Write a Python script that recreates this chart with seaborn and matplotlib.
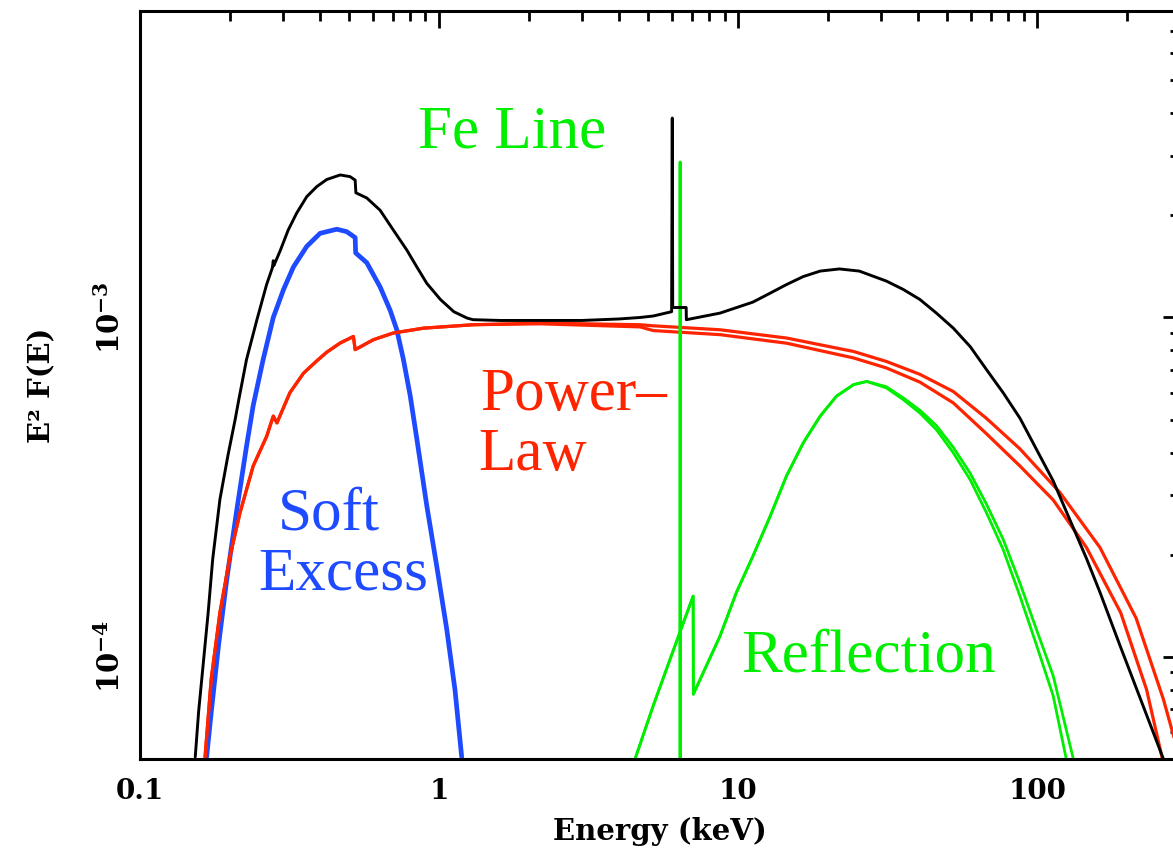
import numpy as np
import matplotlib
matplotlib.use("Agg")
import matplotlib.pyplot as plt
import seaborn as sns
from matplotlib.ticker import FixedLocator, LogLocator, FuncFormatter, NullFormatter

# ---- spectral components (energy in keV, E^2 F(E)) ----
total_E = [0.153, 0.157, 0.169, 0.175, 0.185, 0.197, 0.208, 0.214, 0.227, 0.246,
           0.265, 0.277, 0.279, 0.280, 0.294, 0.313, 0.334, 0.361, 0.390, 0.421,
           0.467, 0.504, 0.524, 0.527, 0.573, 0.635, 0.703, 0.780, 0.842, 0.910,
           1.01, 1.12, 1.24, 1.30, 1.6, 2.2, 3.0, 4.0, 4.7, 5.2,
           5.99, 6.02, 6.04, 6.55, 6.70, 6.71, 8.69, 11.2, 12.8, 14.5,
           16.5, 18.8, 21.8, 25.4, 31.3, 35.6, 40.5, 46.0, 52.4, 59.7,
           69.0, 76.9, 87.5, 113, 146, 162, 189, 244, 264]
total_F = [5.07e-5, 6.88e-5, 1.35e-4, 1.94e-4, 2.91e-4, 3.94e-4, 5.0e-4, 5.73e-4, 7.51e-4, 9.85e-4,
           1.25e-3, 1.40e-3, 1.47e-3, 1.42e-3, 1.57e-3, 1.81e-3, 2.03e-3, 2.27e-3, 2.43e-3, 2.55e-3,
           2.63e-3, 2.60e-3, 2.54e-3, 2.33e-3, 2.25e-3, 2.07e-3, 1.81e-3, 1.58e-3, 1.41e-3, 1.26e-3,
           1.13e-3, 1.04e-3, 9.96e-4, 9.85e-4, 9.8e-4, 9.8e-4, 9.8e-4, 9.9e-4, 1.0e-3, 1.01e-3,
           1.04e-3, 3.87e-3, 1.07e-3, 1.07e-3, 1.07e-3, 9.85e-4, 1.03e-3, 1.11e-3, 1.18e-3, 1.25e-3,
           1.32e-3, 1.37e-3, 1.39e-3, 1.37e-3, 1.28e-3, 1.21e-3, 1.13e-3, 1.03e-3, 9.3e-4, 8.2e-4,
           6.85e-4, 6.0e-4, 5.05e-4, 3.3e-4, 1.95e-4, 1.55e-4, 1.08e-4, 6.0e-5, 5.0e-5]

soft_E = [0.167, 0.173, 0.183, 0.195, 0.210, 0.227, 0.239, 0.249, 0.258, 0.279,
          0.302, 0.326, 0.361, 0.400, 0.455, 0.491, 0.524, 0.526, 0.573, 0.635,
          0.686, 0.722, 0.760, 0.800, 0.842, 0.910, 0.982, 1.06, 1.13, 1.19]
soft_F = [5.07e-5, 6.85e-5, 1.08e-4, 1.69e-4, 2.66e-4, 4.17e-4, 5.5e-4, 6.5e-4, 7.51e-4, 1.0e-3,
          1.21e-3, 1.41e-3, 1.62e-3, 1.77e-3, 1.82e-3, 1.79e-3, 1.72e-3, 1.55e-3, 1.45e-3, 1.23e-3,
          1.05e-3, 9.2e-4, 7.51e-4, 5.9e-4, 4.4e-4, 2.78e-4, 1.85e-4, 1.21e-4, 8.0e-5, 5.07e-5]

powerlaw_a_E = [0.165, 0.173, 0.185, 0.200, 0.216, 0.239, 0.265, 0.279, 0.287, 0.317,
                0.352, 0.390, 0.421, 0.467, 0.517, 0.524, 0.603, 0.703, 0.886, 1.30,
                2.18, 4.70, 5.2, 8.69, 14.5, 24.3, 31.3, 40.5, 52.4, 67.5,
                87.5, 119, 162, 214, 264, 300]
powerlaw_a_F = [5.07e-5, 8.6e-5, 1.35e-4, 1.98e-4, 2.66e-4, 3.65e-4, 4.46e-4, 5.12e-4, 4.89e-4, 6.0e-4,
                6.85e-4, 7.45e-4, 7.9e-4, 8.41e-4, 8.79e-4, 8.04e-4, 8.6e-4, 9.0e-4, 9.3e-4, 9.52e-4,
                9.63e-4, 9.52e-4, 9.45e-4, 9.2e-4, 8.7e-4, 7.94e-4, 7.42e-4, 6.8e-4, 6.05e-4, 5.05e-4,
                4.1e-4, 3.05e-4, 2.1e-4, 1.3e-4, 7.5e-5, 5.0e-5]

powerlaw_b_E = [0.165, 0.173, 0.185, 0.200, 0.216, 0.239, 0.265, 0.279, 0.287, 0.317,
                0.352, 0.390, 0.421, 0.467, 0.517, 0.524, 0.603, 0.703, 0.886, 1.30,
                2.18, 4.70, 5.2, 8.69, 14.5, 24.3, 31.3, 40.5, 52.4, 67.5,
                87.5, 113, 146, 190, 232, 262]
powerlaw_b_F = [5.07e-5, 8.6e-5, 1.35e-4, 1.98e-4, 2.66e-4, 3.65e-4, 4.46e-4, 5.12e-4, 4.89e-4, 6.0e-4,
                6.85e-4, 7.45e-4, 7.9e-4, 8.41e-4, 8.79e-4, 8.04e-4, 8.6e-4, 9.0e-4, 9.3e-4, 9.52e-4,
                9.58e-4, 9.38e-4, 9.15e-4, 8.9e-4, 8.4e-4, 7.6e-4, 7.1e-4, 6.45e-4, 5.6e-4, 4.55e-4,
                3.65e-4, 2.9e-4, 2.1e-4, 1.35e-4, 8.0e-5, 5.0e-5]

refl_a_E = [4.52, 5.20, 6.38, 7.07, 7.08, 8.69, 9.87, 11.2, 12.8, 14.5,
            16.5, 18.8, 21.3, 24.3, 26.9, 31.3, 35.6, 40.5, 46.0, 52.4,
            59.6, 67.6, 76.9, 87.5, 99.5, 113, 125]
refl_a_F = [5.0e-5, 7.18e-5, 1.18e-4, 1.51e-4, 7.76e-5, 1.15e-4, 1.55e-4, 1.98e-4, 2.60e-4, 3.41e-4,
            4.27e-4, 5.12e-4, 5.86e-4, 6.34e-4, 6.48e-4, 6.20e-4, 5.73e-4, 5.23e-4, 4.67e-4, 3.99e-4,
            3.33e-4, 2.66e-4, 2.07e-4, 1.51e-4, 1.08e-4, 7.68e-5, 5.0e-5]

refl_b_E = [4.52, 5.20, 6.38, 7.07, 7.08, 8.69, 9.87, 11.2, 12.8, 14.5,
            16.5, 18.8, 21.3, 24.3, 26.9, 31.3, 35.6, 40.5, 46.0, 52.4,
            59.6, 67.6, 76.9, 87.5, 99.5, 113, 125, 132]
refl_b_F = [5.0e-5, 7.18e-5, 1.18e-4, 1.51e-4, 7.76e-5, 1.15e-4, 1.55e-4, 1.98e-4, 2.60e-4, 3.41e-4,
            4.27e-4, 5.12e-4, 5.86e-4, 6.34e-4, 6.48e-4, 6.25e-4, 5.8e-4, 5.33e-4, 4.8e-4, 4.14e-4,
            3.48e-4, 2.82e-4, 2.22e-4, 1.65e-4, 1.2e-4, 8.8e-5, 6.1e-5, 5.0e-5]

feline_E = [6.39, 6.40, 6.41]
feline_F = [1.0e-5, 2.87e-3, 1.0e-5]

x_ticks = [0.1, 1, 10, 100]
x_tick_labels = ["0.1", "1", "10", "100"]
y_ticks = [1e-4, 1e-3]
y_tick_labels = [r"$\mathbf{10^{-4}}$", r"$\mathbf{10^{-3}}$"]

BLACK = "#000000"
RED = "#ff2400"
BLUE = "#1e4bff"
GREEN = "#00ee00"

sns.set_theme(style="white")
plt.rcParams["font.family"] = ["DejaVu Serif"]
plt.rcParams["mathtext.fontset"] = "dejavuserif"
for key in ("text.color", "axes.labelcolor", "xtick.color", "ytick.color", "axes.edgecolor"):
    plt.rcParams[key] = "black"

W, H = 1173, 850
fig = plt.figure(figsize=(W / 100, H / 100), dpi=100)
fig.patch.set_facecolor("white")
ax = fig.add_axes([140 / W, (H - 759) / H, 1040 / W, 748 / H])
ax.set_facecolor("white")


def draw(E, F, color, lw):
    sns.lineplot(x=E, y=F, ax=ax, color=color, linewidth=lw,
                 estimator=None, sort=False, legend=False)


draw(soft_E, soft_F, BLUE, 3.4)
draw(powerlaw_a_E, powerlaw_a_F, RED, 2.3)
draw(powerlaw_b_E, powerlaw_b_F, RED, 2.3)
draw(refl_a_E, refl_a_F, GREEN, 2.0)
draw(refl_b_E, refl_b_F, GREEN, 2.0)
draw(feline_E, feline_F, GREEN, 2.2)
draw(total_E, total_F, BLACK, 2.1)

ax.set_xscale("log")
ax.set_yscale("log")
ax.set_xlim(0.1, 300)
ax.set_ylim(5e-5, 8e-3)


def nearest_label(ticks, labels):
    def fmt(v, pos):
        i = int(np.argmin([abs(np.log10(t) - np.log10(v)) for t in ticks]))
        return labels[i]
    return FuncFormatter(fmt)


ax.xaxis.set_major_locator(FixedLocator(x_ticks))
ax.xaxis.set_major_formatter(nearest_label(x_ticks, x_tick_labels))
ax.xaxis.set_minor_locator(LogLocator(base=10, subs=np.arange(2, 10), numticks=30))
ax.xaxis.set_minor_formatter(NullFormatter())
ax.yaxis.set_major_locator(FixedLocator(y_ticks))
ax.yaxis.set_major_formatter(nearest_label(y_ticks, y_tick_labels))
ax.yaxis.set_minor_locator(LogLocator(base=10, subs=np.arange(2, 10), numticks=30))
ax.yaxis.set_minor_formatter(NullFormatter())

ax.tick_params(which="both", direction="in", top=True, right=True, color="black", width=2.0)
ax.tick_params(which="major", length=12)
ax.tick_params(which="minor", length=7)
ax.tick_params(axis="x", which="major", labelsize=20, pad=14)
ax.tick_params(axis="y", which="major", labelsize=21, pad=10, labelrotation=90)
for lab in ax.get_xticklabels():
    lab.set_fontweight("bold")
for lab in ax.get_yticklabels():
    lab.set_va("center")

for s in ax.spines.values():
    s.set_color("black")
    s.set_linewidth(2.2)
    s.set_visible(True)

ax.set_xlabel("Energy (keV)", fontsize=21, fontweight="bold")
ax.xaxis.set_label_coords(0.5, -(817 - 759) / 748)
ax.xaxis.label.set_va("top")
ax.set_ylabel("E² F(E)", fontsize=21, fontweight="bold")
ax.yaxis.set_label_coords(-(140 - 56) / 1040, 0.5)

serif = ["Liberation Serif", "DejaVu Serif"]
tsize = 44
ax.text(0.851, 3.16e-3, "Fe Line", color=GREEN, fontsize=tsize, family=serif, ha="left", va="baseline")
ax.text(1.371, 5.35e-4, "Power–", color=RED, fontsize=tsize, family=serif, ha="left", va="baseline")
ax.text(1.35, 3.56e-4, "Law", color=RED, fontsize=tsize, family=serif, ha="left", va="baseline")
ax.text(0.290, 2.37e-4, "Soft", color=BLUE, fontsize=tsize, family=serif, ha="left", va="baseline")
ax.text(0.248, 1.58e-4, "Excess", color=BLUE, fontsize=tsize, family=serif, ha="left", va="baseline")
ax.text(10.2, 9.07e-5, "Reflection", color=GREEN, fontsize=tsize, family=serif, ha="left", va="baseline")

fig.savefig("out.png", dpi=100, facecolor="white")
